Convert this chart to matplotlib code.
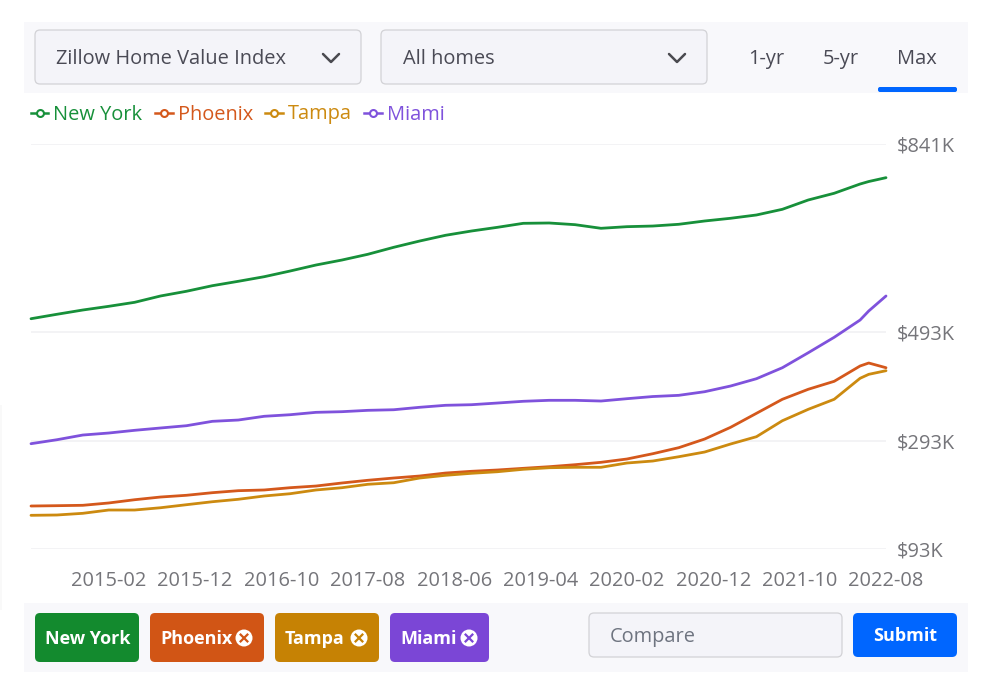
import matplotlib
matplotlib.use("Agg")
import matplotlib.pyplot as plt
from matplotlib.lines import Line2D
from matplotlib.patches import Circle, FancyBboxPatch, Rectangle

plt.rcParams["font.family"] = ["Open Sans", "DejaVu Sans"]

# ---- Data (values in $K) ----
months = [
    "2014-05", "2014-08", "2014-11", "2015-02", "2015-05", "2015-08", "2015-11",
    "2016-02", "2016-05", "2016-08", "2016-11", "2017-02", "2017-05", "2017-08",
    "2017-11", "2018-02", "2018-05", "2018-08", "2018-11", "2019-02", "2019-05",
    "2019-08", "2019-11", "2020-02", "2020-05", "2020-08", "2020-11", "2021-02",
    "2021-05", "2021-08", "2021-11", "2022-02", "2022-05", "2022-06", "2022-08",
]
new_york = [
    518.3, 526.5, 534.4, 541.2, 548.6, 560.3, 569.0, 579.3, 587.4, 595.9, 606.4, 617.5,
    626.7, 637.3, 650.2, 661.8, 672.4, 680.3, 687.1, 694.5, 695.1, 692.0, 685.3, 688.3,
    689.5, 692.7, 698.8, 703.8, 709.9, 720.4, 737.6, 750.0, 767.1, 771.7, 778.8,
]
phoenix = [
    172.4, 173.0, 173.7, 178.0, 184.0, 189.0, 192.2, 197.0, 200.7, 202.0, 206.2, 209.3,
    214.9, 219.9, 224.1, 227.8, 233.3, 236.5, 238.9, 242.0, 245.0, 248.7, 253.1, 259.2,
    269.0, 280.1, 296.1, 317.7, 343.6, 369.5, 388.0, 402.7, 431.0, 436.5, 427.8,
]
tampa = [
    155.2, 155.8, 158.9, 165.0, 165.0, 169.2, 174.8, 180.3, 184.8, 190.9, 195.1, 202.0,
    206.2, 212.5, 215.4, 224.1, 229.1, 232.8, 235.7, 240.2, 243.1, 243.9, 243.9, 251.8,
    255.5, 263.4, 272.1, 286.9, 300.4, 329.9, 351.0, 369.5, 408.3, 415.6, 422.3,
]
miami = [
    287.5, 294.8, 303.5, 307.2, 312.2, 316.5, 320.7, 328.8, 331.2, 338.1, 341.0, 345.4,
    346.6, 349.1, 350.2, 354.7, 358.4, 359.5, 362.6, 365.8, 367.6, 367.6, 366.3, 370.6,
    374.6, 376.8, 383.5, 394.0, 407.5, 427.8, 455.5, 484.0, 515.9, 532.6, 560.3,
]
x_ticks = ["2015-02", "2015-12", "2016-10", "2017-08", "2018-06",
           "2019-04", "2020-02", "2020-12", "2021-10", "2022-08"]
y_ticks = [93, 293, 493, 841]
y_labels = ["$93K", "$293K", "$493K", "$841K"]

names = ["New York", "Phoenix", "Tampa", "Miami"]
series = [new_york, phoenix, tampa, miami]
line_colors = ["#17903a", "#d4581c", "#cc8a10", "#7f52dc"]
chip_colors = ["#138a2e", "#d15515", "#c68204", "#7b46d6"]


def month_pos(label):
    # months since the first point, so the axis stays evenly spaced
    year, month = label.split("-")
    return (int(year) - 2014) * 12 + int(month) - 5


W, H = 986, 692
fig = plt.figure(figsize=(W / 100, H / 100), dpi=100, facecolor="white")

# ---------------------------
# Page furniture, in pixels
# ---------------------------
ui = fig.add_axes([0, 0, 1, 1], zorder=0)
ui.set_xlim(0, W)
ui.set_ylim(H, 0)
ui.axis("off")


def box(x0, y0, x1, y1, face, edge="none", r=5):
    ui.add_patch(FancyBboxPatch((x0, y0), x1 - x0, y1 - y0,
                                boxstyle=f"round,pad=0,rounding_size={r}",
                                facecolor=face, edgecolor=edge, linewidth=0.9))


def chevron(cx, cy):
    ui.plot([cx - 8, cx, cx + 8], [cy - 4, cy + 4, cy - 4], color="#4a4a50",
            lw=1.8, solid_capstyle="round", solid_joinstyle="round")


ui.add_patch(Rectangle((24, 22), 944, 71, facecolor="#f8f8fb", edgecolor="none"))
ui.add_patch(Rectangle((24, 603), 944, 69, facecolor="#f8f8fb", edgecolor="none"))
ui.add_patch(Rectangle((0, 405), 2, 205, facecolor="#f9f9f9", edgecolor="none"))

box(35, 30, 361, 84, "#f4f4f9", "#d2d2d6")
box(381, 30, 707, 84, "#f4f4f9", "#d2d2d6")
ui.text(56, 59, "Zillow Home Value Index", fontsize=14.4, color="#4a4a55", va="center")
ui.text(403, 59, "All homes", fontsize=14.4, color="#4a4a55", va="center")
chevron(331, 58)
chevron(677, 58)
for cx, label in zip([766, 841, 917], ["1-yr", "5-yr", "Max"]):
    ui.text(cx, 59, label, fontsize=14.4, color="#4a4a55", va="center", ha="center")
box(878, 87, 957, 92, "#0066ff", r=2)

chip_x = [(35, 139), (150, 264), (275, 379), (390, 489)]
for i, name in enumerate(names):
    x0, x1 = chip_x[i]
    box(x0, 613, x1, 662, chip_colors[i])
    ui.text(x0 + 10, 639, name, fontsize=13, fontweight="bold", color="white", va="center")
    if i > 0:
        cx, cy, d = x1 - 20, 638, 3.4
        ui.add_patch(Circle((cx, cy), 8.5, facecolor="white", edgecolor="none"))
        ui.plot([cx - d, cx + d], [cy - d, cy + d], color=chip_colors[i], lw=1.6)
        ui.plot([cx - d, cx + d], [cy + d, cy - d], color=chip_colors[i], lw=1.6)

box(589, 613, 842, 657, "#f4f4f9", "#d2d2d6")
ui.text(610, 637, "Compare", fontsize=14.4, color="#6e7480", va="center")
box(853, 613, 957, 657, "#0066ff")
ui.text(905, 636, "Submit", fontsize=13, fontweight="bold", color="white",
        va="center", ha="center")

# ---------------------------
# Line chart
# ---------------------------
ax = fig.add_axes([31 / W, 1 - 549 / H, (886 - 31) / W, (549 - 144) / H], zorder=1)
ax.patch.set_alpha(0)
x = [month_pos(m) for m in months]
for values, color, name in zip(series, line_colors, names):
    ax.plot(x, values, color=color, lw=2.0, label=name, clip_on=False,
            solid_capstyle="round", solid_joinstyle="round", zorder=3)

ax.set_xlim(0, 99)
ax.set_ylim(93, 841)
ax.set_xticks([month_pos(t) for t in x_ticks])
ax.set_xticklabels(x_ticks)
ax.set_yticks(y_ticks)
ax.set_yticklabels(y_labels)
ax.yaxis.tick_right()
ax.tick_params(axis="both", length=0, labelsize=14.4, labelcolor="#75757a")
ax.tick_params(axis="x", pad=15.5)
ax.tick_params(axis="y", pad=8)
ax.grid(axis="y", color="#f1f1f3", lw=1.2)
for spine in ax.spines.values():
    spine.set_visible(False)

handles = [Line2D([], [], color=c, lw=1.8, marker="o", markersize=5,
                  markerfacecolor="white", markeredgecolor=c, markeredgewidth=1.5)
           for c in line_colors]
fig.legend(handles, names, loc="center left", bbox_to_anchor=(31 / W, 1 - 114.5 / H),
           ncol=4, frameon=False, fontsize=14.4, labelcolor=line_colors, borderpad=0,
           borderaxespad=0, handlelength=0.87, handletextpad=0.25, columnspacing=0.63)

fig.savefig("out.png", dpi=100)
plt.close(fig)
